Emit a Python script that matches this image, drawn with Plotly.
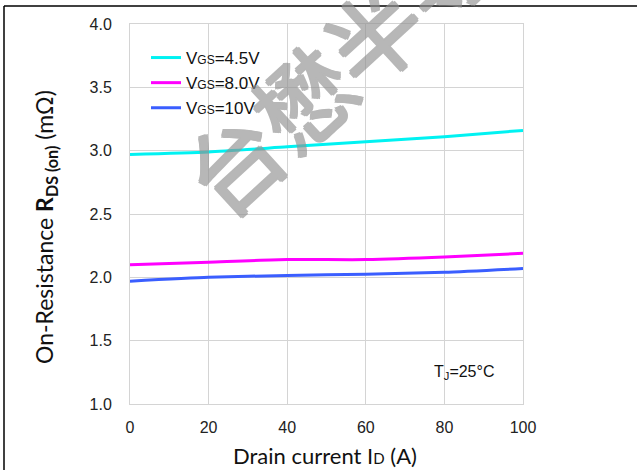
import plotly.graph_objects as go

# Drain current (A)
drain_current = [0, 20, 40, 60, 80, 100]

# On-resistance RDS(on) in mΩ for each gate voltage
rds_vgs_4v5 = [2.97, 2.99, 3.03, 3.07, 3.11, 3.16]
rds_vgs_8v0 = [2.10, 2.12, 2.14, 2.14, 2.16, 2.19]
rds_vgs_10v = [1.97, 2.00, 2.015, 2.025, 2.04, 2.07]

SMALL = "<span style='font-size:12px'>{}</span>"
series_names = ["V" + SMALL.format("GS") + "=4.5V",
                "V" + SMALL.format("GS") + "=8.0V",
                "V" + SMALL.format("GS") + "=10V"]
series_colors = ["#00F2F2", "#FF00FF", "#3A5EFF"]

x_ticks = [0, 20, 40, 60, 80, 100]
y_ticks = [1.0, 1.5, 2.0, 2.5, 3.0, 3.5, 4.0]

W, H = 637, 470
L, R, T, B = 130, 114, 24, 66


def px_to_paper(px, py):
    return (px - L) / (W - L - R), (H - B - py) / (H - T - B)


fig = go.Figure()
for name, ys, col in zip(series_names, [rds_vgs_4v5, rds_vgs_8v0, rds_vgs_10v], series_colors):
    fig.add_trace(go.Scatter(
        x=drain_current, y=ys, mode="lines", name=name,
        line=dict(color=col, width=3, shape="spline", smoothing=0.6),
    ))

axis_common = dict(
    showgrid=True, gridcolor="#D4D4D4", gridwidth=1,
    showline=True, linecolor="#D4D4D4", linewidth=1, mirror=True,
    zeroline=False, ticks="", automargin=False,
    tickfont=dict(family="Liberation Sans, Arial", size=16, color="#222222"),
)

fig.update_xaxes(
    range=[0, 100], tickvals=x_ticks, ticktext=[str(v) for v in x_ticks],
    ticklabelstandoff=9,
    **axis_common,
)
fig.update_yaxes(
    range=[1, 4], tickvals=y_ticks, ticktext=[f"{v:.1f}" for v in y_ticks],
    ticklabelstandoff=14,
    **axis_common,
)

lx, ly = px_to_paper(146, 40)
wx, wy = px_to_paper(336, 64)
tx, ty = px_to_paper(464, 372)
yx, yy = px_to_paper(45, 227)
xtx, xty = px_to_paper(325, 455)
fx0, fy0 = px_to_paper(4, 6)
fx1, fy1 = px_to_paper(W, H)

WM = "rgb(145,145,145)"
wm_shadow = ", ".join(f"{dx}px {dy}px 0 {WM}" for dx, dy in
                      [(1.5, 0), (-1.5, 0), (0, 1.5), (0, -1.5)])

fig.update_layout(
    width=W, height=H,
    margin=dict(l=L, r=R, t=T, b=B),
    paper_bgcolor="white", plot_bgcolor="white",
    showlegend=True,
    legend=dict(
        x=lx, y=ly, xanchor="left", yanchor="top",
        bgcolor="rgba(0,0,0,0)", borderwidth=0,
        font=dict(family="Liberation Sans, Arial", size=17, color="#111111"),
        itemwidth=30, tracegroupgap=0,
    ),
    annotations=[
        # axis titles
        dict(text="On-Resistance <b>R</b><sub><b>DS (on)</b></sub> (mΩ)",
             x=yx, y=yy, xref="paper", yref="paper", xanchor="center", yanchor="middle",
             textangle=-90, showarrow=False,
             font=dict(family="Lato", size=23, color="#111111")),
        dict(text="Drain current I<span style='font-size:15px'>D</span> (A)",
             x=xtx, y=xty, xref="paper", yref="paper", xanchor="center", yanchor="middle",
             showarrow=False, font=dict(family="Lato", size=22, color="#111111")),
        dict(text="T<sub>J</sub>=25°C", x=tx, y=ty,
             xref="paper", yref="paper", xanchor="center", yanchor="middle",
             showarrow=False, font=dict(family="Liberation Sans, Arial", size=16, color="#111111")),
        # watermark
        dict(text="台懋半导", x=wx, y=wy, xref="paper", yref="paper",
             xanchor="center", yanchor="middle",
             showarrow=False, textangle=-42.5, opacity=0.65,
             font=dict(family="Noto Sans CJK SC", size=95, color=WM, shadow=wm_shadow)),
    ],
    shapes=[
        dict(type="line", xref="paper", yref="paper", x0=fx0, x1=fx1, y0=fy0, y1=fy0,
             line=dict(color="black", width=1.5)),
        dict(type="line", xref="paper", yref="paper", x0=fx0, x1=fx0, y0=fy0, y1=fy1 - 0.05,
             line=dict(color="black", width=1.5)),
    ],
)

fig.write_html("out.html")
